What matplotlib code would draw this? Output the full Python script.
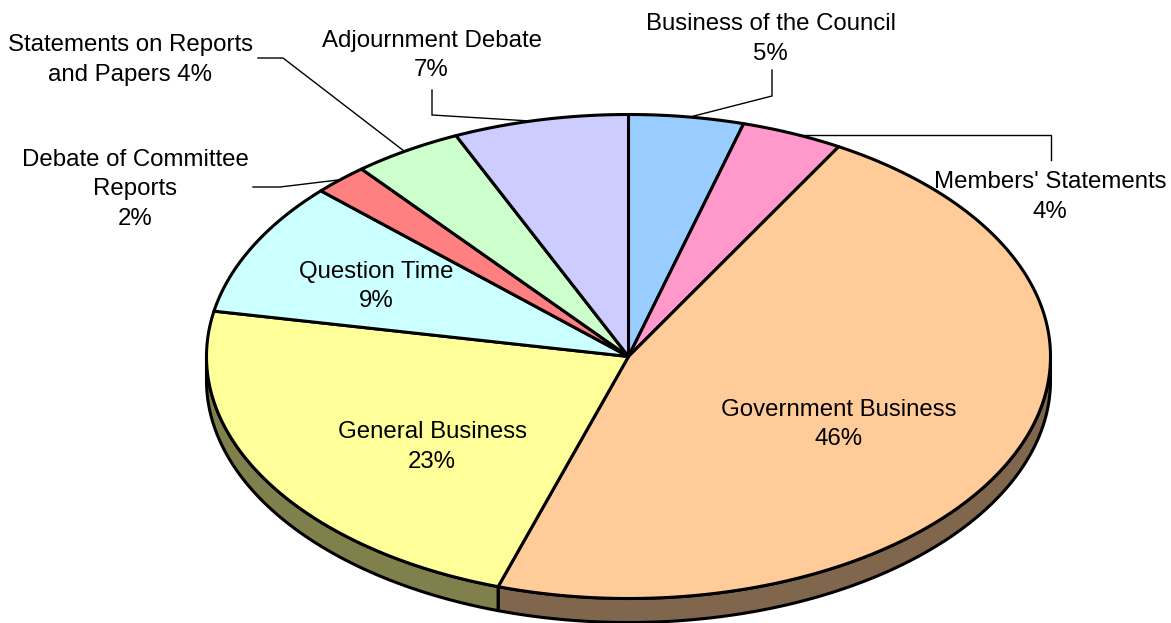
import numpy as np
import matplotlib
matplotlib.use('Agg')
import matplotlib.pyplot as plt
from matplotlib.patches import Polygon

names = ['Business of the Council', "Members' Statements", 'Government Business',
         'General Business', 'Question Time', 'Debate of Committee Reports',
         'Statements on Reports and Papers', 'Adjournment Debate']
shares = [4.4, 3.9, 46.7, 23.0, 9.0, 2.1, 4.2, 6.7]
labels = ['Business of the Council\n5%', "Members' Statements\n4%", 'Government Business\n46%',
          'General Business\n23%', 'Question Time\n9%', 'Debate of Committee\nReports\n2%',
          'Statements on Reports\nand Papers 4%', 'Adjournment Debate\n7%']
colors = ['#99CCFF', '#FF99CC', '#FFCC99', '#FFFF99', '#CCFFFF', '#FF8080', '#CCFFCC', '#CCCCFF']
side_colors = ['#4D6680', '#804D66', '#80664D', '#80804D', '#668080', '#804040', '#668066', '#666680']

# label centres and leader lines, in pixels
label_pos = [(770.5, 39), (1050, 197), (839, 424.5), (432, 447), (376, 286.5), (135, 189.5), (130.5, 60), (431.5, 55.5)]
leaders = {
    0: [(772, 70), (772, 96), (690, 117)],
    1: [(1051, 160), (1051, 135), (798, 135)],
    5: [(253, 187), (280, 187), (338, 180)],
    6: [(258, 58), (283, 58), (404, 151)],
    7: [(432, 90), (432, 115), (530, 121)],
}

CX, CY = 628.5, 356.5
RX, RY = 422, 242
DEPTH = 24


def rim(t0, t1):
    t = np.radians(np.linspace(t0, t1, max(int(abs(t1 - t0) * 2), 2)))
    return CX + RX * np.sin(t), CY - RY * np.cos(t)


plt.rcParams['font.family'] = ['Liberation Sans', 'DejaVu Sans']
fig = plt.figure(figsize=(11.71, 6.23), dpi=100)
ax = fig.add_axes([0, 0, 1, 1])
ax.set_xlim(0, 1171)
ax.set_ylim(623, 0)
ax.axis('off')

edges = np.cumsum([0] + shares) * 3.6
lw = 2.2

# side wall, only the front half of the ellipse shows
for i in range(len(shares)):
    t0, t1 = max(edges[i], 90), min(edges[i + 1], 270)
    if t1 <= t0:
        continue
    x, y = rim(t0, t1)
    pts = np.r_[np.c_[x, y], np.c_[x[::-1], y[::-1] + DEPTH]]
    ax.add_patch(Polygon(pts, closed=True, fc=side_colors[i], ec='black', lw=lw, joinstyle='round'))

# top face
for i in range(len(shares)):
    x, y = rim(edges[i], edges[i + 1])
    pts = np.r_[[(CX, CY)], np.c_[x, y]]
    ax.add_patch(Polygon(pts, closed=True, fc=colors[i], ec='black', lw=lw, joinstyle='round'))

for pts in leaders.values():
    xs, ys = zip(*pts)
    ax.plot(xs, ys, color='black', lw=1.0, solid_joinstyle='miter')

for text, (x, y) in zip(labels, label_pos):
    ax.text(x, y, text, ha='center', va='center', fontsize=17.25, color='black', linespacing=1.42)

fig.savefig('out.png', dpi=100)
